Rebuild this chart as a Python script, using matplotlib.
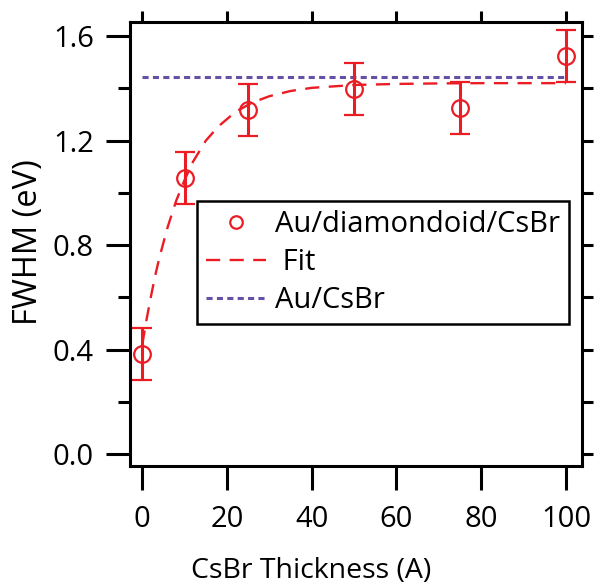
import matplotlib
matplotlib.use("Agg")
import matplotlib.pyplot as plt
from matplotlib.lines import Line2D

# measured FWHM vs CsBr thickness
thickness = [0, 10, 25, 50, 75, 100]
fwhm      = [0.383, 1.057, 1.318, 1.398, 1.325, 1.525]
fwhm_err  = [0.10, 0.10, 0.10, 0.10, 0.10, 0.10]

# fit curve
fit_x = [0, 1, 2, 3, 4, 5, 6, 8, 10, 12, 15, 18, 22, 26, 30, 35, 40, 50, 60, 70, 80, 90, 100]
fit_y = [0.42, 0.515, 0.60, 0.68, 0.75, 0.81, 0.87, 0.97, 1.05, 1.12, 1.20, 1.255,
         1.31, 1.346, 1.37, 1.39, 1.402, 1.413, 1.417, 1.419, 1.42, 1.42, 1.42]

# Au/CsBr reference level
ref_x = [0, 100]
ref_y = [1.444, 1.444]

RED    = "#ec1c24"
PURPLE = "#6650a6"
TICK_FS = 21
LEG_FS  = 21

plt.rcParams["font.family"] = ["Open Sans", "DejaVu Sans"]

fig = plt.figure(figsize=(5.94, 5.84), dpi=100)
ax = fig.add_axes([130 / 594, 118 / 584, 452 / 594, 444 / 584])

ax.plot(ref_x, ref_y, color=PURPLE, lw=2.2, linestyle=(0, (2, 1.4)),
        dash_capstyle="butt")
ax.plot(fit_x, fit_y, color=RED, lw=1.7, linestyle=(0, (6, 4)))
ax.errorbar(thickness, fwhm, yerr=fwhm_err, fmt="o", ms=12, mfc="none",
            mec=RED, mew=1.6, ecolor=RED, elinewidth=2.2, capsize=7.5,
            capthick=2.2)

ax.set_xlim(-2.9, 103.8)
ax.set_ylim(-0.045, 1.654)

ax.set_xticks([0, 20, 40, 60, 80, 100])
ax.set_yticks([0.0, 0.4, 0.8, 1.2, 1.6])
ax.set_yticks([0.2, 0.6, 1.0, 1.4], minor=True)
ax.set_yticklabels(["0.0", "0.4", "0.8", "1.2", "1.6"])

for s in ax.spines.values():
    s.set_linewidth(2.2)

ax.tick_params(axis="x", which="major", direction="out", length=17, width=2.2,
               labelsize=TICK_FS, pad=11, top=False)
ax.tick_params(axis="y", which="major", direction="out", length=17, width=2.2,
               labelsize=TICK_FS, pad=9)
ax.tick_params(axis="y", which="minor", direction="out", length=9, width=2.2)

# short ticks on the top and right edges
top = ax.secondary_xaxis("top")
top.set_xticks([0, 20, 40, 60, 80, 100])
top.tick_params(direction="out", length=8, width=2.2, labeltop=False)
right = ax.secondary_yaxis("right")
right.set_yticks([0.0, 0.2, 0.4, 0.6, 0.8, 1.0, 1.2, 1.4, 1.6])
right.tick_params(direction="out", length=8, width=2.2, labelright=False)
top.spines["top"].set_visible(False)
right.spines["right"].set_visible(False)

# axis titles placed where the reference has them
fig.text(311 / 594, 6 / 584, "CsBr Thickness (A)", fontsize=20.5,
         ha="center", va="baseline")
fig.text(28 / 594, 1 - 242 / 584, "FWHM (eV)", fontsize=23.5, rotation=90,
         ha="center", va="center")

handles = [
    Line2D([], [], ls="none", marker="o", ms=9, mfc="none", mec=RED, mew=1.6),
    Line2D([], [], color=RED, lw=1.7, linestyle=(0, (6, 4))),
    Line2D([], [], color=PURPLE, lw=2.2, linestyle=(0, (2, 1.4))),
]
leg = ax.legend(handles, ["Au/diamondoid/CsBr", " Fit", "Au/CsBr"],
                loc="upper left", bbox_to_anchor=(0.148, 0.597), fontsize=LEG_FS,
                frameon=True, fancybox=False, framealpha=1, edgecolor="black",
                borderpad=0.32, labelspacing=0.3, handlelength=2.05,
                handletextpad=0.3, borderaxespad=0)
leg.get_frame().set_linewidth(1.8)

fig.savefig("out.png", dpi=100)
